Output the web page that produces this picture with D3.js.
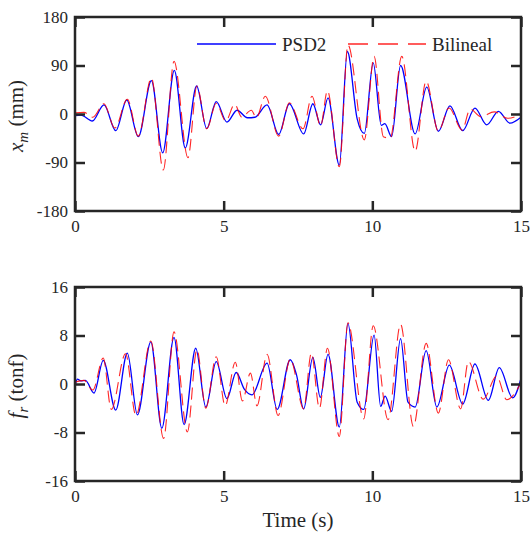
<!DOCTYPE html>
<html><head><meta charset="utf-8">
<script src="https://cdn.jsdelivr.net/npm/d3@7"></script>
<style>body{margin:0;background:#fff}svg{display:block}</style>
</head><body>
<script>
// ---- data ----
const xTicks = [0, 5, 10, 15];
const topTicks = [-180, -90, 0, 90, 180];
const botTicks = [-16, -8, 0, 8, 16];
const seriesNames = ["PSD2", "Bilineal"];

// Top panel: x_m (mm)
const topBlueT = [0,0.2,0.58,0.975,1.37,1.74,2.13,2.57,2.95,3.34,3.71,4.09,4.43,4.75,5.11,5.45,5.8,6.05,6.46,6.85,7.21,7.69,8.0,8.26,8.51,8.89,9.16,9.49,9.73,10.03,10.3,10.42,10.65,10.95,11.44,11.83,12.22,12.61,13.04,13.45,13.85,14.24,14.63,15.0];
const topBlueV = [-3,-2,-13,17,-31,26,-42,62,-72,81,-63,52,-27,23,-15,7,-7,-6,17,-38,19,-37,19,-20,30,-95,116,-9,-36,95,-21,-18,-42,90,-37,50,-32,15,-31,11,-20,5,-17,-6];
const topRedT = [0,0.3,0.6,0.97,1.34,1.76,2.13,2.57,2.97,3.33,3.8,4.1,4.43,4.75,5.07,5.37,5.61,5.93,6.1,6.4,6.85,7.21,7.67,7.97,8.26,8.49,8.89,9.18,9.73,10.06,10.37,10.6,10.99,11.44,11.81,12.22,12.58,13.02,13.29,13.65,14.1,14.55,15.0];
const topRedV = [2,3,-6,19,-26,27.5,-41,67,-104,98,-81,52,-27.5,20,-13,18,-6,7,-7,33,-41,21,-27.5,33,-22,43,-98,128,-48,107,-42,-45,107,-69,61,-32,11,-30,9,-5,4,-8,0];

// Bottom panel: f_r (tonf)
const botBlueT = [0,0.08,0.2,0.35,0.64,0.95,1.37,1.76,2.1,2.55,2.92,3.33,3.67,4.06,4.4,4.75,5.11,5.42,5.7,5.95,6.46,6.8,7.24,7.45,7.69,8.0,8.25,8.51,8.89,9.18,9.49,9.71,10.06,10.28,10.43,10.65,10.95,11.2,11.44,11.81,12.17,12.59,13.04,13.45,13.9,14.27,14.72,15.0];
const botBlueV = [-0.5,0.8,0.5,0.6,-1.5,3.9,-4.3,5.1,-5.1,6.95,-7.3,7.7,-6.7,5.9,-3.8,3.7,-2.4,1.9,-0.9,-1.8,3.45,-4.2,4.0,1.5,-4.1,4.4,-2.2,4.9,-7.1,10.0,-3.0,-4.2,8.05,-3.7,-2.0,-4.5,7.5,-3.0,-3.8,5.5,-3.8,3.1,-3.3,3.3,-2.7,2.7,-2.3,0.9];
const botRedT = [0,0.3,0.6,0.95,1.22,1.7,2.05,2.55,2.98,3.33,3.78,4.1,4.4,4.75,5.05,5.39,5.63,5.9,6.12,6.46,6.83,7.24,7.69,7.95,8.22,8.49,8.89,9.18,9.71,10.03,10.53,10.95,11.38,11.81,12.22,12.56,12.97,13.23,13.73,14.18,14.52,15.0];
const botRedV = [0.3,0.6,-1.0,4.3,-4.2,5.0,-5.2,7.1,-9.0,8.6,-7.9,5.7,-4.0,4.5,-3.6,3.6,-2.8,1.8,-3.6,4.9,-5.2,4.1,-4.1,5.1,-4.0,5.9,-8.65,10.1,-5.75,9.6,-5.9,9.85,-7.0,6.7,-4.8,4.0,-4.1,3.7,-2.5,1.3,-2.6,0.2];

// ---- layout ----
const W = 531, H = 535;
const L = 75, R = 521;
const FONT = "'Liberation Serif', 'Times New Roman', 'DejaVu Serif', serif";
const panels = [
  {top: 17, bot: 211, dom: [-180, 180], ticks: topTicks, blue: [topBlueT, topBlueV], red: [topRedT, topRedV], ylab: ["x", "m", " (mm)"], lx: 23, ly: 116},
  {top: 287, bot: 481, dom: [-16, 16], ticks: botTicks, blue: [botBlueT, botBlueV], red: [botRedT, botRedV], ylab: ["f", "r", " (tonf)"], lx: 23, ly: 386}
];
const AX = "#262626";

const svg = d3.select("body").append("svg").attr("width", W).attr("height", H)
  .style("font-family", FONT);
const x = d3.scaleLinear().domain([0, 15]).range([L, R]);
const fmt = d => String(d);

panels.forEach((p, i) => {
  const y = d3.scaleLinear().domain(p.dom).range([p.bot, p.top]);
  const g = svg.append("g");
  const clipId = "clip" + i;
  svg.append("clipPath").attr("id", clipId).append("rect")
    .attr("x", L).attr("y", p.top).attr("width", R - L).attr("height", p.bot - p.top);

  const line = d3.line().x(d => x(d[0])).y(d => y(d[1])).curve(d3.curveMonotoneX);
  const redData = p.red[0].map((t, k) => [t, p.red[1][k]]);
  const blueData = p.blue[0].map((t, k) => [t, p.blue[1][k]]);

  g.append("path").datum(blueData).attr("clip-path", `url(#${clipId})`)
    .attr("d", line).attr("fill", "none").attr("stroke", "#0000ff").attr("stroke-width", 1.3);
  g.append("path").datum(redData).attr("clip-path", `url(#${clipId})`)
    .attr("d", line).attr("fill", "none").attr("stroke", "#ff0000").attr("stroke-width", 1.1)
    .attr("stroke-opacity", 0.85).attr("stroke-dasharray", "12,6");

  // axes
  const styleAxis = sel => {
    sel.attr("font-family", null).attr("font-size", null);
    sel.select(".domain").remove();
    sel.selectAll(".tick line").attr("stroke", AX).attr("stroke-width", 2.5);
    sel.selectAll(".tick text").style("font-size", "17px").style("font-family", FONT).attr("fill", AX);
  };
  g.append("g").attr("transform", `translate(0,${p.bot})`)
    .call(d3.axisBottom(x).tickValues(xTicks).tickSize(-10).tickPadding(9).tickFormat(fmt)).call(styleAxis);
  g.append("g").attr("transform", `translate(0,${p.top})`)
    .call(d3.axisTop(x).tickValues(xTicks).tickSize(-10).tickFormat("")).call(styleAxis);
  g.append("g").attr("transform", `translate(${L},0)`)
    .call(d3.axisLeft(y).tickValues(p.ticks).tickSize(-10).tickPadding(7).tickFormat(fmt)).call(styleAxis);
  g.append("g").attr("transform", `translate(${R},0)`)
    .call(d3.axisRight(y).tickValues(p.ticks).tickSize(-10).tickFormat("")).call(styleAxis);

  g.append("rect").attr("x", L).attr("y", p.top).attr("width", R - L).attr("height", p.bot - p.top)
    .attr("fill", "none").attr("stroke", AX).attr("stroke-width", 2.5);

  // y label
  const t = g.append("text").attr("transform", `translate(${p.lx},${p.ly}) rotate(-90)`)
    .attr("text-anchor", "middle").attr("fill", AX).style("font-size", "21px").style("font-family", FONT);
  t.append("tspan").attr("font-style", "italic").text(p.ylab[0]);
  t.append("tspan").attr("font-style", "italic").attr("dy", 5).style("font-size", "15px").text(p.ylab[1]);
  t.append("tspan").attr("dy", -5).text(p.ylab[2]);
});

// x label
svg.append("text").attr("x", (L + R) / 2).attr("y", 527).attr("text-anchor", "middle")
  .attr("fill", AX).style("font-size", "21px").style("font-family", FONT).text("Time (s)");

// legend
const leg = svg.append("g");
leg.append("line").attr("x1", 197).attr("x2", 276).attr("y1", 44).attr("y2", 44)
  .attr("stroke", "#0000ff").attr("stroke-width", 1.4);
leg.append("text").attr("x", 282).attr("y", 51).attr("fill", AX).style("font-size", "19px").style("font-family", FONT).text(seriesNames[0]);
leg.append("line").attr("x1", 348).attr("x2", 426).attr("y1", 44).attr("y2", 44)
  .attr("stroke", "#ff0000").attr("stroke-opacity", 0.85).attr("stroke-width", 1.3).attr("stroke-dasharray", "20,10");
leg.append("text").attr("x", 432).attr("y", 51).attr("fill", AX).style("font-size", "19px").style("font-family", FONT).text(seriesNames[1]);
</script>
</body></html>
